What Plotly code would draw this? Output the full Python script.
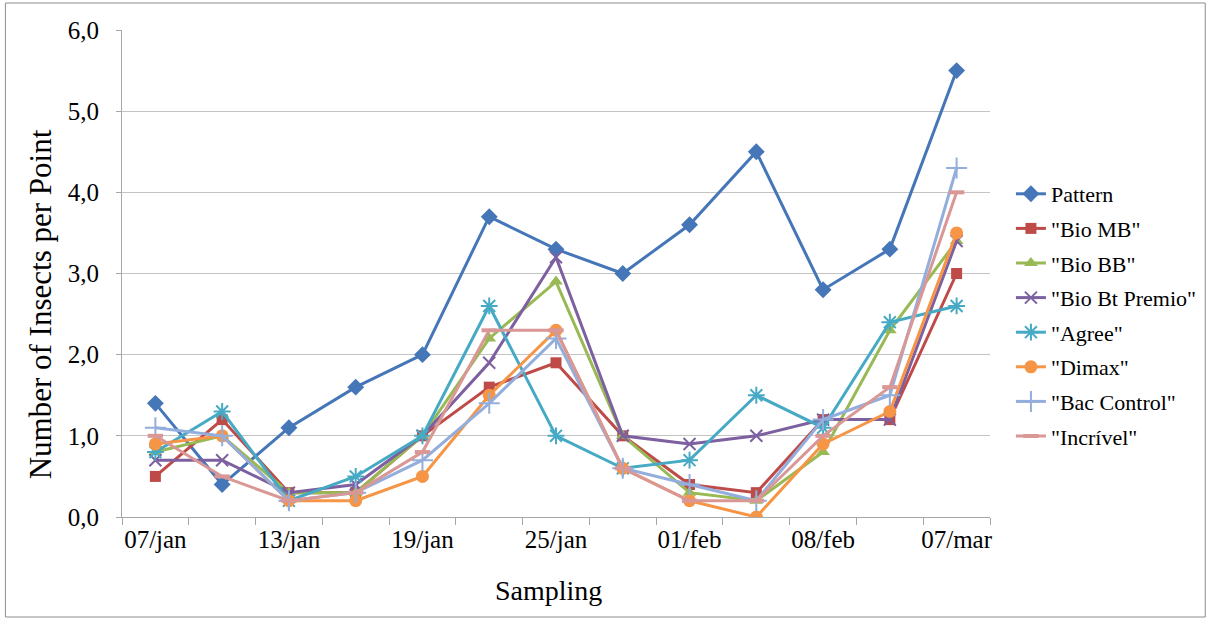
import plotly.graph_objects as go

# ---- data ----
sample_index = list(range(13))
tick_positions = [0, 2, 4, 6, 8, 10, 12]
tick_labels = ["07/jan", "13/jan", "19/jan", "25/jan", "01/feb", "08/feb", "07/mar"]

pattern = [1.4, 0.4, 1.1, 1.6, 2.0, 3.7, 3.3, 3.0, 3.6, 4.5, 2.8, 3.3, 5.5]
bio_mb = [0.5, 1.2, 0.3, 0.3, 1.0, 1.6, 1.9, 1.0, 0.4, 0.3, 1.2, 1.2, 3.0]
bio_bb = [0.8, 1.0, 0.3, 0.3, 1.0, 2.2, 2.9, 1.0, 0.3, 0.2, 0.8, 2.3, 3.4]
bio_bt_premio = [0.7, 0.7, 0.3, 0.4, 1.0, 1.9, 3.2, 1.0, 0.9, 1.0, 1.2, 1.2, 3.4]
agree = [0.8, 1.3, 0.2, 0.5, 1.0, 2.6, 1.0, 0.6, 0.7, 1.5, 1.1, 2.4, 2.6]
dimax = [0.9, 1.0, 0.2, 0.2, 0.5, 1.5, 2.3, 0.6, 0.2, 0.0, 0.9, 1.3, 3.5]
bac_control = [1.1, 1.0, 0.2, 0.3, 0.7, 1.4, 2.2, 0.6, 0.4, 0.2, 1.2, 1.5, 4.3]
incrivel = [1.0, 0.5, 0.2, 0.3, 0.8, 2.3, 2.3, 0.6, 0.2, 0.2, 1.0, 1.6, 4.0]

series_names = ["Pattern", '"Bio MB"', '"Bio BB"', '"Bio Bt Premio"', '"Agree"',
                '"Dimax"', '"Bac Control"', '"Incrível"']
series_values = [pattern, bio_mb, bio_bb, bio_bt_premio, agree, dimax, bac_control, incrivel]

x_title = "Sampling"
y_title = "Number of Insects per Point"

# ---- styles ----
colors = ["#4576B8", "#BE4B48", "#98B954", "#7D60A0", "#46AAC5", "#F69546", "#93AEDC", "#D99795"]
markers = [
    dict(symbol="diamond", size=13),
    dict(symbol="square", size=11),
    dict(symbol="triangle-up", size=12),
    dict(symbol="x-thin-open", size=12, line=dict(width=2)),
    dict(symbol="asterisk-open", size=14, line=dict(width=2)),
    dict(symbol="circle", size=13),
    dict(symbol="cross-thin-open", size=15, line=dict(width=2)),
    dict(symbol="line-ew-open", size=11, line=dict(width=4)),
]

FONT = "Liberation Serif"
W, H = 1214, 620
L, R, T, B = 122, 221, 30, 103
pw, ph = W - L - R, H - T - B

fig = go.Figure()
for i, (name, vals) in enumerate(zip(series_names, series_values)):
    m = dict(markers[i])
    m["color"] = colors[i]
    if "line" in m:
        m["line"] = dict(m["line"], color=colors[i])
    fig.add_trace(go.Scatter(
        x=sample_index, y=vals, name=name, mode="lines+markers",
        line=dict(color=colors[i], width=3), marker=m,
        legendgroup=f"g{i}",
    ))

axis_grey = "#A6A6A6"
fig.update_layout(
    width=W, height=H,
    margin=dict(l=L, r=R, t=T, b=B),
    paper_bgcolor="white", plot_bgcolor="white",
    separators=",.",
    font=dict(family=FONT, color="#000000", size=20),
    showlegend=True,
    legend=dict(
        x=(1014 - L) / pw, y=(517 - 173) / ph, xanchor="left", yanchor="top",
        font=dict(family=FONT, size=22, color="#000000"),
        tracegroupgap=3, bgcolor="rgba(0,0,0,0)", itemwidth=30,
    ),
    xaxis=dict(
        range=[-0.5, 12.5], showgrid=False, zeroline=False,
        showline=True, linecolor=axis_grey, linewidth=1,
        tickmode="array", tickvals=tick_positions, ticktext=tick_labels,
        ticks="", tickfont=dict(family=FONT, size=25, color="#000000"),
        minor=dict(tickmode="array", tickvals=[k - 0.5 for k in range(14)],
                   ticks="outside", ticklen=7, tickcolor=axis_grey, tickwidth=1, showgrid=False),
    ),
    yaxis=dict(
        range=[0, 6], dtick=1, tick0=0, tickformat=".1f",
        showgrid=True, gridcolor="#C4C4C4", gridwidth=1, zeroline=False,
        showline=True, linecolor=axis_grey, linewidth=1,
        ticks="outside", ticklen=5, tickcolor=axis_grey,
        ticklabelstandoff=12,
        tickfont=dict(family=FONT, size=25, color="#000000"),
    ),
    annotations=[
        dict(text=x_title, xref="paper", yref="paper",
             x=(550 - L) / pw, y=(517 - 590) / ph, xanchor="center", yanchor="middle",
             showarrow=False, font=dict(family=FONT, size=28, color="#000000")),
        dict(text=y_title, xref="paper", yref="paper", textangle=-90,
             x=(40 - L) / pw, y=(517 - 304) / ph, xanchor="center", yanchor="middle",
             showarrow=False, font=dict(family=FONT, size=31, color="#000000")),
    ],
    shapes=[dict(
        type="rect", xref="paper", yref="paper",
        x0=(5 - L) / pw, x1=(1209 - L) / pw,
        y0=(517 - 617) / ph, y1=(517 - 3) / ph,
        line=dict(color="#8C8C8C", width=1), fillcolor="rgba(0,0,0,0)", layer="below",
    )],
)

fig.write_html("out.html", config={"displayModeBar": False},
               post_script="document.body.style.margin='0';document.body.style.padding='0';")
